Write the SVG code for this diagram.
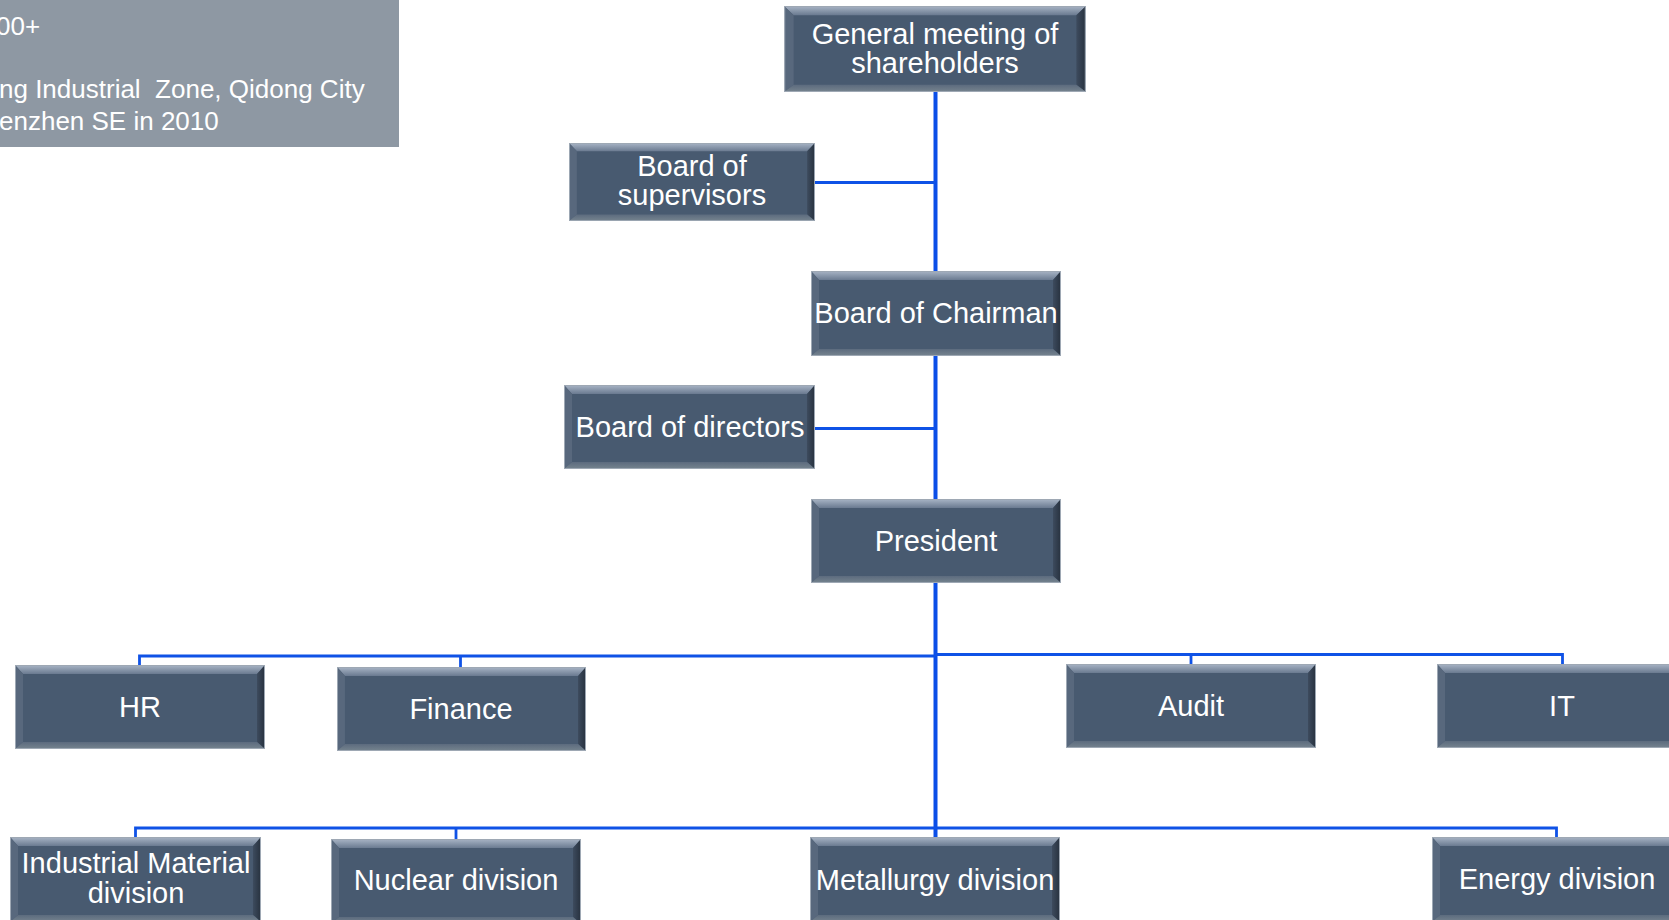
<svg xmlns="http://www.w3.org/2000/svg" xmlns:xlink="http://www.w3.org/1999/xlink" width="1669" height="920" viewBox="0 0 1669 920">
<style>
.t{font-family:"Liberation Sans",Arial,sans-serif;font-size:29px;fill:#ffffff;text-anchor:middle}
.p{font-family:"Liberation Sans",Arial,sans-serif;font-size:26px;fill:#ffffff}
.trunk{stroke:#0a4ee8;stroke-width:4;fill:none}
.c{stroke:#0f52e6;stroke-width:2.8;fill:none}
</style>
<defs>
<linearGradient id="gTop" x1="0" y1="0" x2="0" y2="1">
<stop offset="0" stop-color="#a9b5c6"/>
<stop offset="1" stop-color="#6a7a90"/>
</linearGradient>
<linearGradient id="gRight" x1="0" y1="0" x2="1" y2="0">
<stop offset="0" stop-color="#3d4b5e"/>
<stop offset="1" stop-color="#27313e"/>
</linearGradient>
<linearGradient id="gBot" x1="0" y1="0" x2="0" y2="1">
<stop offset="0" stop-color="#5c6b7e"/>
<stop offset="1" stop-color="#76848f"/>
</linearGradient>
<symbol id="box" viewBox="0 0 250 84" preserveAspectRatio="none">
<rect x="0" y="0" width="250" height="84" fill="#485a70"/>
<polygon points="0,0 250,0 242,9 8,9" fill="url(#gTop)"/>
<polygon points="0,0 8,9 8,77 0,84" fill="#58687d"/>
<polygon points="250,0 250,84 242,77 242,9" fill="url(#gRight)"/>
<polygon points="0,84 8,77 242,77 250,84" fill="url(#gBot)"/>
<rect x="0.5" y="0.5" width="249" height="83" fill="none" stroke="#9ea8b4" stroke-width="1"/>
</symbol>
</defs>

<g id="info-panel">
<rect x="0" y="0" width="399" height="147" fill="#8e98a3"/>
<text class="p" x="-4" y="35">00+</text>
<text class="p" x="-1" y="98" xml:space="preserve">ng Industrial  Zone, Qidong City</text>
<text class="p" x="-1" y="130">enzhen SE in 2010</text>
</g>

<g id="connectors">
<path class="trunk" d="M935.5 92 V837"/>
<path class="c" d="M815 182.5 H935"/>
<path class="c" d="M815 428.5 H935"/>
<path class="c" d="M139.5 665 V656 H935"/>
<path class="c" d="M460.5 667 V656"/>
<path class="c" d="M935 654.5 H1562.5 V665"/>
<path class="c" d="M1191 654.5 V664"/>
<path class="c" d="M135.5 837 V828 H1556.5 V837"/>
<path class="c" d="M456 839 V828"/>
</g>

<g id="n-general">
<use xlink:href="#box" href="#box" x="784" y="6" width="302" height="86"/>
<text class="t" x="935" y="44">General meeting of</text>
<text class="t" x="935" y="73">shareholders</text>
</g>
<g id="n-supervisors">
<use xlink:href="#box" href="#box" x="569" y="143" width="246" height="78"/>
<text class="t" x="692" y="176">Board of</text>
<text class="t" x="692" y="205">supervisors</text>
</g>
<g id="n-chairman">
<use xlink:href="#box" href="#box" x="811" y="271" width="250" height="85"/>
<text class="t" x="936" y="323">Board of Chairman</text>
</g>
<g id="n-directors">
<use xlink:href="#box" href="#box" x="564" y="385" width="251" height="84"/>
<text class="t" x="690" y="437">Board of directors</text>
</g>
<g id="n-president">
<use xlink:href="#box" href="#box" x="811" y="499" width="250" height="84"/>
<text class="t" x="936" y="551">President</text>
</g>
<g id="n-hr">
<use xlink:href="#box" href="#box" x="15" y="665" width="250" height="84"/>
<text class="t" x="140" y="717">HR</text>
</g>
<g id="n-finance">
<use xlink:href="#box" href="#box" x="337" y="667" width="249" height="84"/>
<text class="t" x="461" y="719">Finance</text>
</g>
<g id="n-audit">
<use xlink:href="#box" href="#box" x="1066" y="664" width="250" height="84"/>
<text class="t" x="1191" y="716">Audit</text>
</g>
<g id="n-it">
<use xlink:href="#box" href="#box" x="1437" y="664" width="250" height="84"/>
<text class="t" x="1562" y="716">IT</text>
</g>
<g id="n-industrial">
<use xlink:href="#box" href="#box" x="10" y="837" width="251" height="85"/>
<text class="t" x="136" y="873">Industrial Material</text>
<text class="t" x="136" y="903">division</text>
</g>
<g id="n-nuclear">
<use xlink:href="#box" href="#box" x="331" y="839" width="250" height="85"/>
<text class="t" x="456" y="890">Nuclear division</text>
</g>
<g id="n-metallurgy">
<use xlink:href="#box" href="#box" x="810" y="837" width="250" height="85"/>
<text class="t" x="935" y="890">Metallurgy division</text>
</g>
<g id="n-energy">
<use xlink:href="#box" href="#box" x="1432" y="837" width="250" height="85"/>
<text class="t" x="1557" y="889">Energy division</text>
</g>
</svg>
